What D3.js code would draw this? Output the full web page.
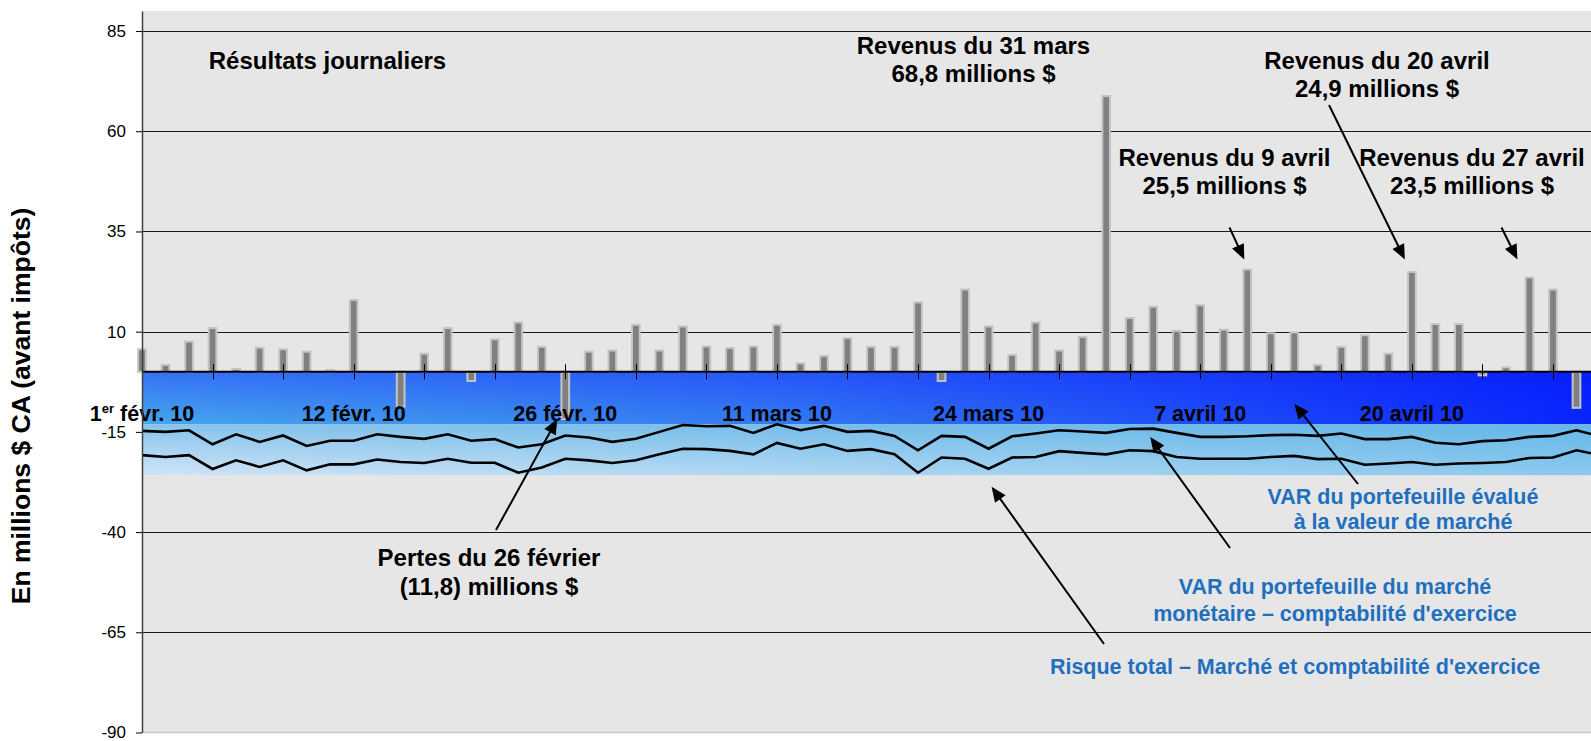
<!DOCTYPE html>
<html>
<head>
<meta charset="utf-8">
<script src="https://cdn.jsdelivr.net/npm/d3@7"></script>
<style>
  html, body { margin: 0; padding: 0; background: #fff; overflow: hidden; }
  svg { display: block; font-family: "Liberation Sans", Arial, sans-serif; }
</style>
</head>
<body>
<svg id="chart" width="1591" height="741"></svg>
<script>
// Business days, February to April 2010
const dates = [
  "2010-02-01","2010-02-02","2010-02-03","2010-02-04","2010-02-05",
  "2010-02-08","2010-02-09","2010-02-10","2010-02-11","2010-02-12",
  "2010-02-16","2010-02-17","2010-02-18","2010-02-19",
  "2010-02-22","2010-02-23","2010-02-24","2010-02-25","2010-02-26",
  "2010-03-01","2010-03-02","2010-03-03","2010-03-04","2010-03-05",
  "2010-03-08","2010-03-09","2010-03-10","2010-03-11","2010-03-12",
  "2010-03-15","2010-03-16","2010-03-17","2010-03-18","2010-03-19",
  "2010-03-22","2010-03-23","2010-03-24","2010-03-25","2010-03-26",
  "2010-03-29","2010-03-30","2010-03-31",
  "2010-04-01","2010-04-05","2010-04-06","2010-04-07","2010-04-08","2010-04-09",
  "2010-04-12","2010-04-13","2010-04-14","2010-04-15","2010-04-16",
  "2010-04-19","2010-04-20","2010-04-21","2010-04-22","2010-04-23",
  "2010-04-26","2010-04-27","2010-04-28","2010-04-29","2010-04-30"
];

// Daily trading results (millions $ CA, before tax)
const dailyResults = [
  5.6, 1.7, 7.5, 10.9, 0.7, 6.0, 5.6, 5.0, 0.4, 17.9,
  0, -8.7, 4.5, 10.9, -2.3, 8.1, 12.3, 6.2, -11.8,
  5.0, 5.3, 11.7, 5.3, 11.3, 6.3, 5.9, 6.3, 11.7, 2.1,
  3.9, 8.4, 6.2, 6.2, 17.3, -2.3, 20.5, 11.3, 4.2, 12.3,
  5.3, 8.7, 68.8,
  13.4, 16.2, 10.2, 16.6, 10.5, 25.5, 9.6, 9.8, 1.7, 6.2,
  9.1, 4.5, 24.9, 11.9, 11.9, -0.9, 1.1, 23.5, 20.5, -9.0, null
];

// VAR of the money market portfolio, accrual accounting
const varMoneyMarket = [
  -14.75, -15.0, -14.6, -18.1, -15.6, -17.5, -15.9, -18.5, -17.2, -17.2,
  -15.6, -16.25, -16.75, -15.6, -17.2, -16.8, -18.9, -18.1, -15.9,
  -16.4, -17.5, -16.7, -15.0, -13.3, -13.6, -13.5, -15.25, -13.1, -14.6,
  -13.5, -15.0, -14.75, -16.0, -19.6, -16.0, -16.25, -19.2, -16.1, -15.4,
  -14.6, -14.9, -15.25,
  -14.3, -14.2, -15.25, -16.25, -16.25, -16.1, -15.8, -15.7, -16.0, -15.4,
  -16.8, -16.8, -16.25, -17.7, -18.1, -17.3, -17.1, -16.25, -16.0, -14.6, -16.1
];

// Total risk: market and accrual accounting
const totalRisk = [
  -20.8, -21.25, -20.8, -24.25, -22.1, -23.75, -22.1, -24.6, -23.1, -23.1,
  -21.9, -22.5, -22.75, -21.7, -22.7, -22.7, -25.2, -23.9, -21.7,
  -22.1, -22.75, -22.1, -20.6, -19.2, -19.3, -19.75, -20.6, -17.75, -19.2,
  -18.1, -19.75, -19.3, -20.6, -25.2, -21.4, -21.7, -24.2, -21.4, -21.25,
  -19.8, -20.25, -20.6,
  -19.6, -19.8, -21.25, -21.7, -21.7, -21.7, -21.25, -21.0, -21.8, -21.7,
  -23.2, -22.9, -22.5, -23.2, -22.9, -22.75, -22.5, -21.5, -21.4, -19.6, -20.8
];

// VAR band limits: mark-to-market portfolio (0 to -13.1), then risk zone (-13.1 to -25.8)
const varBandLimits = [0, -13.1, -25.8];

const yTicks = [-90, -65, -40, -15, 10, 35, 60, 85];
const labelDates = ["2010-02-01","2010-02-12","2010-02-26","2010-03-11","2010-03-24","2010-04-07","2010-04-20"];
const labelTexts = ["1er févr. 10","12 févr. 10","26 févr. 10","11 mars 10","24 mars 10","7 avril 10","20 avril 10"];

// ---------------------------------------------------------------
const W = 1591, H = 741;
const plotLeft = 142, plotRight = 1600;
const svg = d3.select("#chart");

const x = d3.scalePoint().domain(dates).range([plotLeft, plotRight]);
const y = d3.scaleLinear().domain([-90, 90]).range([732.5, 11]);

svg.append("rect").attr("width", W).attr("height", H).attr("fill", "#fff");

// Gradients for the VAR bands
const defs = svg.append("defs");
function gradient(id, x1, y1, x2, y2, stops, units) {
  const g = defs.append("linearGradient").attr("id", id)
    .attr("x1", x1).attr("y1", y1).attr("x2", x2).attr("y2", y2);
  if (units) g.attr("gradientUnits", units);
  stops.forEach(s => g.append("stop").attr("offset", s[0])
    .attr("stop-color", s[1]).attr("stop-opacity", s[2] == null ? 1 : s[2]));
}
gradient("darkBase", 0, 0, 0, 1, [[0, "#3572f6"], [1, "#47a7ec"]]);
gradient("darkShift", plotLeft, 0, W, 0,
  [[0, "#0010ff", 0], [0.45, "#0010ff", 0.3], [1, "#0010ff", 0.86]], "userSpaceOnUse");
gradient("lightBase", 0, 0, 0, 1, [[0, "#86c3eb"], [1, "#d0e4f6"]]);
gradient("lightShift", plotLeft, 0, W, 0,
  [[0, "#3aa8e4", 0], [0.5, "#3aa8e4", 0.24], [1, "#3aa8e4", 0.45]], "userSpaceOnUse");

// Plot area
svg.append("rect")
  .attr("x", plotLeft).attr("y", y(90))
  .attr("width", plotRight - plotLeft).attr("height", y(-90) - y(90))
  .attr("fill", "#e6e6e6");
svg.append("line")
  .attr("x1", plotLeft).attr("x2", plotRight)
  .attr("y1", y(-90)).attr("y2", y(-90))
  .attr("stroke", "#c8c8c8").attr("stroke-width", 1.5);

// Gridlines
svg.append("g").selectAll("line")
  .data(yTicks.filter(v => v > -90))
  .join("line")
  .attr("x1", plotLeft).attr("x2", plotRight)
  .attr("y1", d => Math.round(y(d)) + 0.5).attr("y2", d => Math.round(y(d)) + 0.5)
  .attr("stroke", "#1a1a1a").attr("stroke-width", 1);

// VAR bands
const bands = [
  { top: varBandLimits[0], bottom: varBandLimits[1], base: "darkBase", shift: "darkShift" },
  { top: varBandLimits[1], bottom: varBandLimits[2], base: "lightBase", shift: "lightShift" }
];
bands.forEach(b => {
  ["base", "shift"].forEach(k => {
    svg.append("rect")
      .attr("x", plotLeft).attr("y", y(b.top))
      .attr("width", plotRight - plotLeft).attr("height", y(b.bottom) - y(b.top))
      .attr("fill", `url(#${b[k]})`);
  });
});

// Daily result bars
const barW = 7.7;
svg.append("g").selectAll("rect")
  .data(dates.map((d, i) => ({ d, v: dailyResults[i] })).filter(o => o.v != null && o.v !== 0))
  .join("rect")
  .attr("x", o => x(o.d) - barW / 2)
  .attr("y", o => y(Math.max(0, o.v)))
  .attr("width", barW)
  .attr("height", o => Math.abs(y(o.v) - y(0)))
  .attr("fill", "#808080")
  .attr("stroke", "#c4c4c4")
  .attr("stroke-width", 2);

// Zero line and category ticks
svg.append("line")
  .attr("x1", plotLeft).attr("x2", plotRight)
  .attr("y1", y(0)).attr("y2", y(0))
  .attr("stroke", "#000").attr("stroke-width", 2.2);
svg.append("g").selectAll("line")
  .data(dates.filter((d, i) => i > 0 && i % 3 === 0))
  .join("line")
  .attr("x1", d => Math.round(x(d)) + 0.5).attr("x2", d => Math.round(x(d)) + 0.5)
  .attr("y1", y(0) - 7.5).attr("y2", y(0) + 7.5)
  .attr("stroke", "#000").attr("stroke-width", 1);

// VAR lines
const line = d3.line().x((v, i) => x(dates[i])).y(v => y(v));
[varMoneyMarket, totalRisk].forEach(series => {
  svg.append("path")
    .attr("d", line(series))
    .attr("fill", "none")
    .attr("stroke", "#000")
    .attr("stroke-width", 2.6)
    .attr("stroke-linejoin", "miter");
});

// Date labels
const dateLabelG = svg.append("g")
  .attr("font-weight", "bold").attr("font-size", 21.5).attr("fill", "#000")
  .attr("text-anchor", "middle");
labelDates.forEach((d, k) => {
  const t = dateLabelG.append("text").attr("x", x(d)).attr("y", 420.5);
  const txt = labelTexts[k];
  if (txt.startsWith("1er")) {
    t.append("tspan").text("1");
    t.append("tspan").attr("font-size", 13).attr("dy", -8).text("er");
    t.append("tspan").attr("dy", 8).text(txt.slice(3));
  } else {
    t.text(txt);
  }
});

// Y axis
const yAxis = d3.axisLeft(y).tickValues(yTicks).tickSize(6).tickPadding(10)
  .tickSizeOuter(0).tickFormat(d => String(d));
const yAxisG = svg.append("g").attr("transform", `translate(${plotLeft},0)`).call(yAxis);
yAxisG.select(".domain").attr("stroke", "#404040").attr("stroke-width", 1.5);
yAxisG.selectAll(".tick line").attr("stroke", "#000");
yAxisG.selectAll(".tick text")
  .attr("font-family", "'Liberation Sans', Arial, sans-serif")
  .attr("font-size", 17).attr("fill", "#000");

svg.append("text")
  .attr("transform", "translate(30,406) rotate(-90)")
  .attr("text-anchor", "middle")
  .attr("font-weight", "bold").attr("font-size", 26.5)
  .text("En millions $ CA (avant impôts)");

// Annotations
function textBlock(lines, cx, baseline, step, size, color) {
  const t = svg.append("text")
    .attr("text-anchor", "middle").attr("font-weight", "bold")
    .attr("font-size", size).attr("fill", color);
  lines.forEach((l, i) => t.append("tspan").attr("x", cx).attr("y", baseline + i * step).text(l));
}
function arrow(sx, sy, tx, ty) {
  const dx = tx - sx, dy = ty - sy, len = Math.hypot(dx, dy);
  const ux = dx / len, uy = dy / len, L = 15, w = 6.5;
  svg.append("line")
    .attr("x1", sx).attr("y1", sy)
    .attr("x2", tx - ux * L * 0.8).attr("y2", ty - uy * L * 0.8)
    .attr("stroke", "#000").attr("stroke-width", 2);
  const bx = tx - ux * L, by = ty - uy * L;
  svg.append("path")
    .attr("d", `M${tx},${ty}L${bx - uy * w},${by + ux * w}L${bx + uy * w},${by - ux * w}Z`)
    .attr("fill", "#000");
}
const at = (date, value, dx) => [x(date) + (dx || 0), y(value)];

textBlock(["Résultats journaliers"], 327.5, 69, 0, 24, "#000");
textBlock(["Revenus du 31 mars", "68,8 millions $"], 973.5, 53.5, 28.3, 24, "#000");
textBlock(["Revenus du 9 avril", "25,5 millions $"], 1224.5, 165.5, 28.3, 24, "#000");
textBlock(["Revenus du 20 avril", "24,9 millions $"], 1377, 69, 28.3, 24, "#000");
textBlock(["Revenus du 27 avril", "23,5 millions $"], 1472, 165.5, 28.3, 24, "#000");
textBlock(["Pertes du 26 février", "(11,8) millions $"], 489, 565.5, 29.5, 24, "#000");

const blue = "#1f6fbf";
textBlock(["VAR du portefeuille évalué", "à la valeur de marché"], 1403, 503.5, 25.5, 21.5, blue);
textBlock(["VAR du portefeuille du marché", "monétaire – comptabilité d'exercice"], 1335, 594, 26.5, 21.5, blue);
textBlock(["Risque total – Marché et comptabilité d'exercice"], 1295, 674, 0, 21.5, blue);

arrow(496, 530, ...at("2010-02-26", -11.8, -8));
arrow(1229.5, 227.5, ...at("2010-04-09", 28, -3));
arrow(1329, 105, ...at("2010-04-20", 28, -7));
arrow(1501.5, 227.5, ...at("2010-04-27", 28, -12));
arrow(1358, 484, ...at("2010-04-13", -8, 0));
arrow(1230, 548, ...at("2010-04-05", -16.3, -3));
arrow(1104, 644, ...at("2010-03-24", -28.7, 3));
</script>
</body>
</html>
